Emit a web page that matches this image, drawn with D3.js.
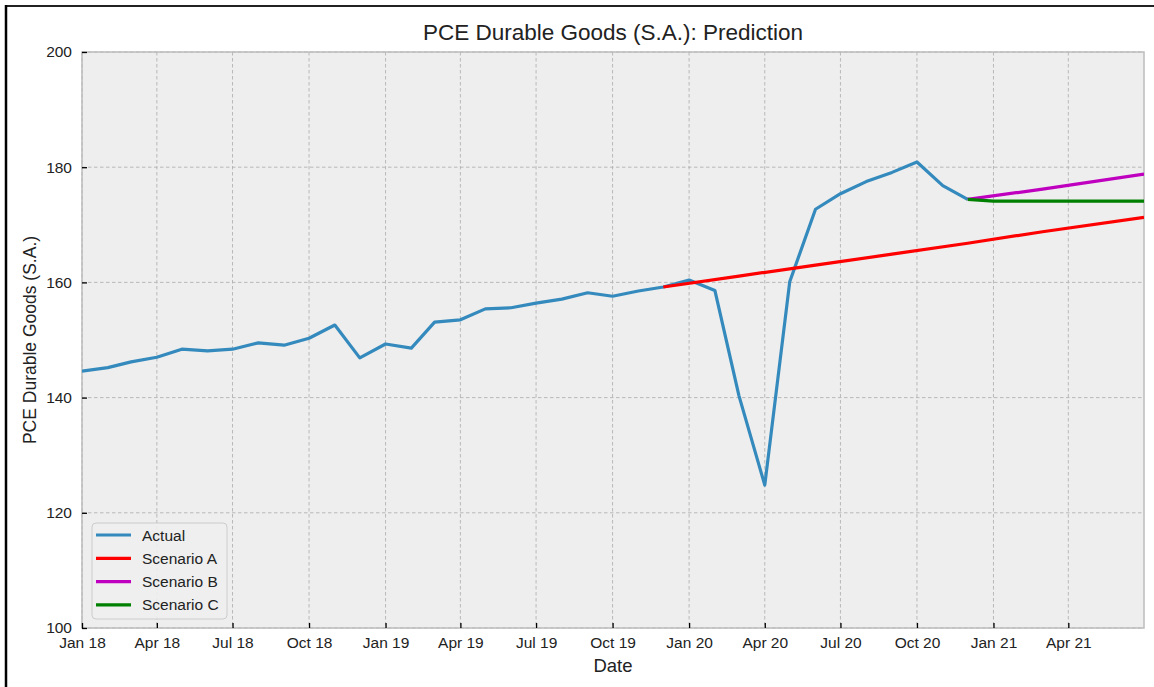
<!DOCTYPE html>
<html><head><meta charset="utf-8">
<script src="https://cdn.jsdelivr.net/npm/d3@7"></script>
<style>
body{margin:0;background:#fff;}
text{font-family:"Liberation Sans",Arial,sans-serif;fill:#222;}
</style></head>
<body>
<svg id="c" width="1154" height="687"></svg>
<script>
// ---- data ----
const actualMonths = ["2018-01","2018-02","2018-03","2018-04","2018-05","2018-06","2018-07","2018-08","2018-09","2018-10","2018-11","2018-12",
"2019-01","2019-02","2019-03","2019-04","2019-05","2019-06","2019-07","2019-08","2019-09","2019-10","2019-11","2019-12",
"2020-01","2020-02","2020-03","2020-04","2020-05","2020-06","2020-07","2020-08","2020-09","2020-10","2020-11","2020-12"];
const actualValues = [144.6,145.2,146.2,147.0,148.4,148.1,148.4,149.5,149.1,150.3,152.6,146.9,
149.3,148.6,153.1,153.5,155.4,155.6,156.4,157.1,158.2,157.6,158.5,159.2,
160.4,158.6,140.3,124.8,160.1,172.7,175.4,177.5,179.1,180.9,176.8,174.4];

const scenAMonths = ["2019-12","2020-03","2020-06","2020-09","2020-12","2021-03","2021-07"];
const scenAValues = [159.2,161.1,163.0,164.9,166.8,168.8,171.3];

const scenBMonths = ["2020-12","2021-03","2021-07"];
const scenBValues = [174.4,176.2,178.8];

const scenCMonths = ["2020-12","2021-01","2021-07"];
const scenCValues = [174.4,174.1,174.1];

const yTicks = [100,120,140,160,180,200];
const xTickMonths = ["2018-01","2018-04","2018-07","2018-10","2019-01","2019-04","2019-07","2019-10","2020-01","2020-04","2020-07","2020-10","2021-01","2021-04"];

const seriesNames = ["Actual","Scenario A","Scenario B","Scenario C"];
const seriesColors = ["#348ABD","#ff0000","#bf00bf","#008000"];

// ---- layout ----
const svg = d3.select("#c");
const L=82, R=1144, T=52, B=628;
const parse = d3.timeParse("%Y-%m");
const x = d3.scaleTime().domain([parse("2018-01"), parse("2021-07")]).range([L,R]);
const y = d3.scaleLinear().domain([100,200]).range([B,T]);

// figure border
svg.append("line").attr("x1",6).attr("x2",1154).attr("y1",6).attr("y2",6).attr("stroke","#222").attr("stroke-width",2);
svg.append("line").attr("x1",6).attr("x2",6).attr("y1",5).attr("y2",687).attr("stroke","#000").attr("stroke-width",2.5);

// background
svg.append("rect").attr("x",L).attr("y",T).attr("width",R-L).attr("height",B-T).attr("fill","#eeeeee");

// grid
const g = svg.append("g");
xTickMonths.forEach(m=>{
  const xx = x(parse(m));
  g.append("line").attr("x1",xx).attr("x2",xx).attr("y1",T).attr("y2",B)
   .attr("stroke","#b2b2b2").attr("stroke-width",0.9).attr("stroke-dasharray","3.5,2.5");
});
yTicks.forEach(v=>{
  const yy = y(v);
  g.append("line").attr("x1",L).attr("x2",R).attr("y1",yy).attr("y2",yy)
   .attr("stroke","#b2b2b2").attr("stroke-width",0.9).attr("stroke-dasharray","3.5,2.5");
});

// spines
svg.append("rect").attr("x",L).attr("y",T).attr("width",R-L).attr("height",B-T)
  .attr("fill","none").attr("stroke","#bcbcbc").attr("stroke-width",1.5);

// axes
const xAxis = d3.axisBottom(x).tickValues(xTickMonths.map(parse)).tickFormat(d3.timeFormat("%b %y")).tickSizeInner(-5).tickSizeOuter(0).tickPadding(9);
const gx = svg.append("g").attr("transform",`translate(0,${B})`).call(xAxis);
gx.select(".domain").remove();
gx.selectAll(".tick line").attr("stroke","#000").attr("stroke-width",1.3);
gx.selectAll(".tick text").attr("font-size",15.5).attr("fill","#222").style("font-family","Liberation Sans, Arial, sans-serif");

const yAxis = d3.axisLeft(y).tickValues(yTicks).tickSizeInner(-5).tickSizeOuter(0).tickPadding(10);
const gy = svg.append("g").attr("transform",`translate(${L},0)`).call(yAxis);
gy.select(".domain").remove();
gy.selectAll(".tick line").attr("stroke","#000").attr("stroke-width",1.3);
gy.selectAll(".tick text").attr("font-size",15.5).attr("fill","#222").style("font-family","Liberation Sans, Arial, sans-serif");

// lines
const line = d3.line().x(d=>x(d[0])).y(d=>y(d[1]));
const clip = svg.append("clipPath").attr("id","clp").append("rect").attr("x",L).attr("y",T).attr("width",R-L).attr("height",B-T);
const all = [
  [actualMonths, actualValues],
  [scenAMonths, scenAValues],
  [scenBMonths, scenBValues],
  [scenCMonths, scenCValues]
];
all.forEach((s,i)=>{
  const pts = s[0].map((m,j)=>[parse(m), s[1][j]]);
  svg.append("path").datum(pts).attr("d",line).attr("fill","none")
    .attr("stroke",seriesColors[i]).attr("stroke-width",3.2).attr("stroke-linejoin","round")
    .attr("clip-path","url(#clp)");
});

// titles
svg.append("text").attr("x",(L+R)/2).attr("y",40).attr("text-anchor","middle").attr("font-size",22.5).text("PCE Durable Goods (S.A.): Prediction");
svg.append("text").attr("x",(L+R)/2).attr("y",672).attr("text-anchor","middle").attr("font-size",18.5).text("Date");
svg.append("text").attr("transform",`translate(36,${(T+B)/2}) rotate(-90)`).attr("text-anchor","middle").attr("font-size",17.5).text("PCE Durable Goods (S.A.)");

// legend
const lg = svg.append("g");
lg.append("rect").attr("x",92).attr("y",523).attr("width",135).attr("height",96).attr("rx",4)
  .attr("fill","#eeeeee").attr("fill-opacity",0.9).attr("stroke","#cccccc").attr("stroke-width",1);
seriesNames.forEach((n,i)=>{
  const yy = 535 + i*23.3;
  lg.append("line").attr("x1",96).attr("x2",131).attr("y1",yy).attr("y2",yy).attr("stroke",seriesColors[i]).attr("stroke-width",3.2);
  lg.append("text").attr("x",142).attr("y",yy+5.5).attr("font-size",15.5).text(n);
});
</script>
</body></html>
